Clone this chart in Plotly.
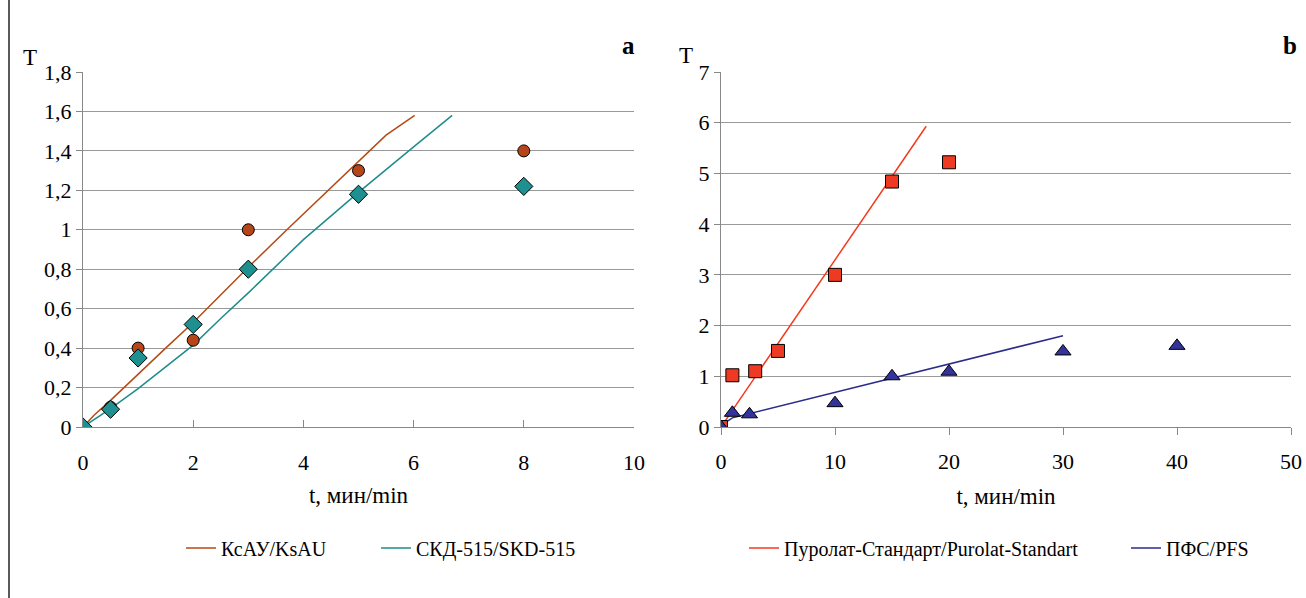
import plotly.graph_objects as go

# Panel a data
ksau_t = [0, 0.5, 1, 2, 3, 5, 8]
ksau_T = [0, 0.10, 0.40, 0.44, 1.00, 1.30, 1.40]
skd_t = [0, 0.5, 1, 2, 3, 5, 8]
skd_T = [0, 0.09, 0.35, 0.52, 0.80, 1.18, 1.22]
ksau_fit_t = [0, 0.2, 0.5, 1, 1.5, 2, 3, 3.7, 4, 5, 5.5, 6.02]
ksau_fit_T = [0, 0.06, 0.135, 0.27, 0.40, 0.53, 0.81, 1.00, 1.08, 1.345, 1.48, 1.58]
skd_fit_t = [0, 0.5, 1, 2, 2.5, 3, 4, 5, 6, 6.7]
skd_fit_T = [0, 0.093, 0.195, 0.415, 0.55, 0.68, 0.95, 1.19, 1.42, 1.58]

# Panel b data
pur_t = [0, 1, 3, 5, 10, 15, 20]
pur_T = [0, 1.02, 1.10, 1.50, 3.00, 4.84, 5.22]
pfs_t = [0, 1, 2.5, 10, 15, 20, 30, 40]
pfs_T = [0, 0.28, 0.25, 0.47, 1.00, 1.09, 1.49, 1.60]
pur_fit_t = [0, 18]
pur_fit_T = [0, 5.93]
pfs_fit_t = [0, 1, 30]
pfs_fit_T = [0.03, 0.18, 1.80]

c_ksau = "#B44A14"
c_skd = "#1E8C8C"
c_pur = "#F23A1E"
c_pfs = "#2B2B8C"

serif = "Liberation Serif"
fig = go.Figure()

# Panel a
fig.add_trace(go.Scatter(x=ksau_fit_t, y=ksau_fit_T, mode="lines", line=dict(color=c_ksau, width=1.5),
                         name="КсАУ/KsAU", xaxis="x", yaxis="y", legend="legend"))
fig.add_trace(go.Scatter(x=skd_fit_t, y=skd_fit_T, mode="lines", line=dict(color=c_skd, width=1.5),
                         name="СКД-515/SKD-515", xaxis="x", yaxis="y", legend="legend2"))
fig.add_trace(go.Scatter(x=ksau_t, y=ksau_T, mode="markers", showlegend=False,
                         marker=dict(symbol="circle", size=12, color="#B5461A", line=dict(color="black", width=1)),
                         xaxis="x", yaxis="y"))
fig.add_trace(go.Scatter(x=skd_t, y=skd_T, mode="markers", showlegend=False,
                         marker=dict(symbol="diamond", size=14, color="#1E9090", line=dict(color="black", width=1)),
                         xaxis="x", yaxis="y"))

# Panel b
fig.add_trace(go.Scatter(x=pur_fit_t, y=pur_fit_T, mode="lines", line=dict(color=c_pur, width=1.5),
                         name="Пуролат-Стандарт/Purolat-Standart", xaxis="x2", yaxis="y2", legend="legend3"))
fig.add_trace(go.Scatter(x=pfs_fit_t, y=pfs_fit_T, mode="lines", line=dict(color=c_pfs, width=1.5),
                         name="ПФС/PFS", xaxis="x2", yaxis="y2", legend="legend4"))
fig.add_trace(go.Scatter(x=pur_t, y=pur_T, mode="markers", showlegend=False,
                         marker=dict(symbol="square", size=13, color="#EE3A22", line=dict(color="black", width=1)),
                         xaxis="x2", yaxis="y2"))
fig.add_trace(go.Scatter(x=pfs_t, y=pfs_T, mode="markers", showlegend=False,
                         marker=dict(symbol="triangle-up", size=14, color="#33339A", line=dict(color="black", width=1)),
                         xaxis="x2", yaxis="y2"))

ydom = [1 - 427 / 598, 1 - 72 / 598]
axfont = dict(family=serif, size=22, color="black")
titlefont = dict(family=serif, size=23, color="black")
common_x = dict(showgrid=False, zeroline=False, showline=True, linecolor="#888888", linewidth=1,
                tickfont=axfont, ticklen=7, tickcolor="#888888", automargin=False)
common_y = dict(showgrid=True, gridcolor="#999999", gridwidth=1, zeroline=False, showline=True,
                linecolor="#888888", linewidth=1, tickfont=axfont, ticks="outside", ticklen=6,
                tickcolor="#888888", automargin=False)

legfont = dict(family=serif, size=20, color="black")
legy = 1 - 548 / 598


def leg(xpx):
    return dict(x=xpx / 1306, y=legy, xanchor="left", yanchor="middle", orientation="h",
                font=legfont, bgcolor="rgba(0,0,0,0)", borderwidth=0)


def note(text, xpx, ypx, size):
    return dict(text=text, x=xpx / 1306, y=1 - ypx / 598, xref="paper", yref="paper", showarrow=False,
                xanchor="center", yanchor="middle", font=dict(family=serif, size=size, color="black"))


fig.update_layout(
    width=1306, height=598, autosize=False,
    margin=dict(l=0, r=0, t=0, b=0, pad=0, autoexpand=False),
    paper_bgcolor="white", plot_bgcolor="white",
    separators=", ",
    font=dict(family=serif, color="black"),
    xaxis=dict(domain=[83 / 1306, 634 / 1306], range=[0, 10], dtick=2, ticks="inside", anchor="y",
               ticklabelstandoff=16, title=dict(text="t, мин/min", font=titlefont, standoff=12), **common_x),
    yaxis=dict(domain=ydom, range=[0, 1.8], dtick=0.2, anchor="x", **common_y),
    xaxis2=dict(domain=[721 / 1306, 1291 / 1306], range=[0, 50], dtick=10, ticks="outside", anchor="y2",
                ticklabelstandoff=8, title=dict(text="t, мин/min", font=titlefont, standoff=14), **common_x),
    yaxis2=dict(domain=ydom, range=[0, 7], dtick=1, anchor="x2", **common_y),
    legend=leg(181),
    legend2=leg(376),
    legend3=leg(744),
    legend4=leg(1126),
    annotations=[
        note("T", 30, 57, 23),
        note("T", 686, 55, 23),
        note("<b>a</b>", 628, 46, 25),
        note("<b>b</b>", 1290, 46, 25),
    ],
    shapes=[
        dict(type="line", xref="paper", yref="paper", x0=9 / 1306, x1=9 / 1306, y0=0, y1=1,
             line=dict(color="#222222", width=1.5)),
    ],
)

fig.write_html("out.html", config={"displayModeBar": False},
               post_script="document.body.style.margin='0';document.body.style.padding='0';"
                           "document.documentElement.style.overflow='hidden';")
